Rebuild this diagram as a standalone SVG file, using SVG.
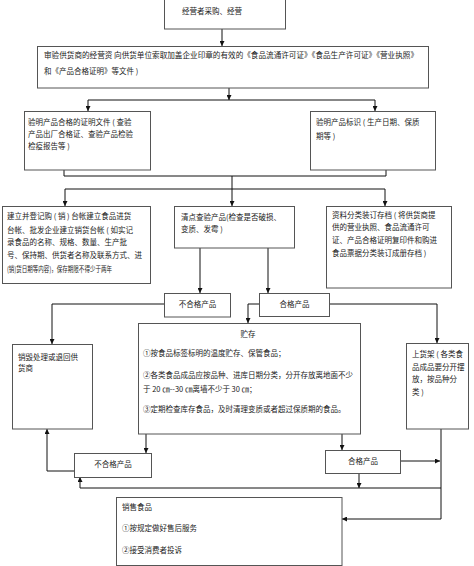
<svg xmlns="http://www.w3.org/2000/svg" width="474" height="566" viewBox="0 0 474 566">
<style>
.box{fill:#fff;stroke:#555;stroke-width:1}
.t{font-family:"Noto Sans CJK SC","Liberation Sans",sans-serif;font-size:7.5px;fill:#222}
.c{text-anchor:middle}
.ln{fill:none;stroke:#111;stroke-width:1}
</style>
<defs>
<marker id="ar" viewBox="0 0 6 6" refX="6" refY="3" markerWidth="5" markerHeight="5" markerUnits="userSpaceOnUse" orient="auto">
<path d="M0,0 L6,3 L0,6 z" fill="#111"/>
</marker>
</defs>
<rect width="474" height="566" fill="#fff"/>

<g id="connectors">
<path class="ln" d="M222,29 V46" marker-end="url(#ar)"/>
<path class="ln" d="M229,88 V100" marker-end="url(#ar)"/>
<path class="ln" d="M88,100 H375"/>
<path class="ln" d="M88,100 V111" marker-end="url(#ar)"/>
<path class="ln" d="M375,100 V111" marker-end="url(#ar)"/>
<path class="ln" d="M64,170 V176 H386 V170"/>
<path class="ln" d="M232,176 V189"/>
<path class="ln" d="M65,189 H385"/>
<path class="ln" d="M65,189 V206" marker-end="url(#ar)"/>
<path class="ln" d="M232,189 V206" marker-end="url(#ar)"/>
<path class="ln" d="M385,189 V206" marker-end="url(#ar)"/>
<path class="ln" d="M200,248 V293" marker-end="url(#ar)"/>
<path class="ln" d="M268,248 V293" marker-end="url(#ar)"/>
<path class="ln" d="M164,304 H52 V344" marker-end="url(#ar)"/>
<path class="ln" d="M259,304 H248 V323" marker-end="url(#ar)"/>
<path class="ln" d="M329,304 H437 V343" marker-end="url(#ar)"/>
<path class="ln" d="M146,434 V453" marker-end="url(#ar)"/>
<path class="ln" d="M342,434 V450" marker-end="url(#ar)"/>
<path class="ln" d="M74,471 H47 V429" marker-end="url(#ar)"/>
<path class="ln" d="M400,461 H440" marker-end="url(#ar)"/>
<path class="ln" d="M441,429 V519 H342" marker-end="url(#ar)"/>
<path class="ln" d="M441,488 H80 V477" marker-end="url(#ar)"/>
<path class="ln" d="M359,473 V488" marker-end="url(#ar)"/>
</g>

<g id="n-purchase">
<rect class="box" x="164.5" y="-1" width="121" height="30"/>
<text class="t" x="182" y="14">经营者采购、经营</text>
</g>

<g id="n-audit">
<rect class="box" x="37.5" y="46.5" width="391" height="41.5"/>
<text class="t" x="44" y="58" textLength="374" lengthAdjust="spacingAndGlyphs">审验供货商的经营资 向供货单位索取加盖企业印章的有效的《食品流通许可证》《食品生产许可证》《营业执照》</text>
<text class="t" x="44" y="74">和《产品合格证明》等文件 )</text>
</g>

<g id="n-cert">
<rect class="box" x="24.5" y="111.5" width="126" height="58.5"/>
<text class="t" x="28" y="125">验明产品合格的证明文件 ( 查验</text>
<text class="t" x="28" y="137">产品出厂合格证、查验产品检验</text>
<text class="t" x="28" y="149">检疫报告等 )</text>
</g>

<g id="n-label">
<rect class="box" x="310.5" y="111.5" width="125" height="58.5"/>
<text class="t" x="316" y="125">验明产品标识 ( 生产日期、保质</text>
<text class="t" x="316" y="139">期等 )</text>
</g>

<g id="n-ledger">
<rect class="box" x="2.5" y="206.5" width="148" height="77"/>
<text class="t" x="7" y="219">建立并登记购 ( 销 ) 台帐建立食品进货</text>
<text class="t" x="7" y="233">台帐、批发企业建立销货台帐 ( 如实记</text>
<text class="t" x="7" y="245">录食品的名称、规格、数量、生产批</text>
<text class="t" x="7" y="258">号、保持期、供货者名称及联系方式、进</text>
<text class="t" x="7" y="272" textLength="105" lengthAdjust="spacingAndGlyphs">(销)货日期等内容)，保存期限不得少于两年</text>
</g>

<g id="n-check">
<rect class="box" x="174.5" y="206.5" width="120" height="41.5"/>
<text class="t" x="181" y="220">清点查验产品(检查是否破损、</text>
<text class="t" x="181" y="232">变质、发霉 )</text>
</g>

<g id="n-archive">
<rect class="box" x="326.5" y="206.5" width="125" height="81.5"/>
<text class="t" x="332" y="218">资料分类装订存档 ( 将供货商提</text>
<text class="t" x="332" y="230">供的营业执照、食品流通许可</text>
<text class="t" x="332" y="243">证、产品合格证明复印件和购进</text>
<text class="t" x="332" y="256">食品票据分类装订成册存档 )</text>
</g>

<g id="n-unqual1">
<rect class="box" x="164.5" y="293.5" width="66" height="23.5"/>
<text class="t c" x="197.5" y="307">不合格产品</text>
</g>

<g id="n-qual1">
<rect class="box" x="259.5" y="293.5" width="70" height="23"/>
<text class="t c" x="294.5" y="307">合格产品</text>
</g>

<g id="n-destroy">
<rect class="box" x="12.5" y="344.5" width="80" height="84.5"/>
<text class="t" x="18" y="360">销毁处理或退回供</text>
<text class="t" x="18" y="371">货商</text>
</g>

<g id="n-storage">
<rect class="box" x="138.5" y="323.5" width="222" height="110.5"/>
<text class="t c" x="248" y="337">贮存</text>
<text class="t" x="143" y="356">①按食品标签标明的温度贮存、保管食品；</text>
<text class="t" x="143" y="378">②各类食品成品应按品种、进库日期分类，分开存放离地面不少</text>
<text class="t" x="143" y="392">于 20 ㎝--30 ㎝离墙不少于 30 ㎝；</text>
<text class="t" x="143" y="412">③定期检查库存食品，及时清理变质或者超过保质期的食品。</text>
</g>

<g id="n-shelf">
<rect class="box" x="406.5" y="343.5" width="62" height="85.5"/>
<text class="t" x="412" y="357">上货架 ( 各类食</text>
<text class="t" x="412" y="370">品成品要分开摆</text>
<text class="t" x="412" y="382">放，按品种分</text>
<text class="t" x="412" y="395">类 )</text>
</g>

<g id="n-unqual2">
<rect class="box" x="74.5" y="453.5" width="77" height="24"/>
<text class="t c" x="113" y="467">不合格产品</text>
</g>

<g id="n-qual2">
<rect class="box" x="325.5" y="450.5" width="75" height="23"/>
<text class="t c" x="363" y="464">合格产品</text>
</g>

<g id="n-sales">
<rect class="box" x="116.5" y="497.5" width="225.5" height="68"/>
<text class="t" x="122" y="510">销售食品</text>
<text class="t" x="122" y="531">①按规定做好售后服务</text>
<text class="t" x="122" y="553">②接受消费者投诉</text>
</g>
</svg>
